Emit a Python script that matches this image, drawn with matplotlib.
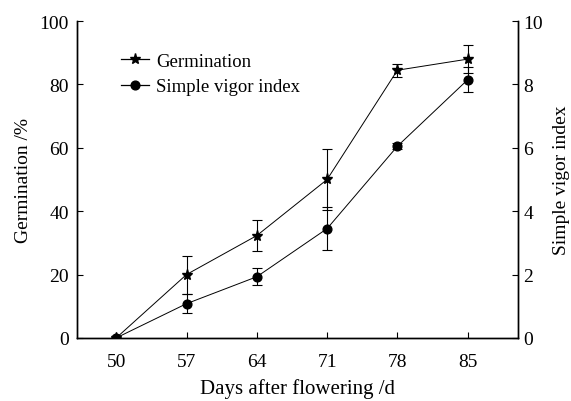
import numpy as np
import matplotlib.pyplot as plt
from matplotlib.lines import Line2D

plt.rcParams['font.family'] = ['Liberation Serif', 'DejaVu Serif']

# data
days = [50, 57, 64, 71, 78, 85]
germination = [0, 20, 32.3, 50, 84.5, 88]
germination_err = [0, 6, 5, 9.5, 2, 4.5]
vigor = [0, 1.08, 1.93, 3.45, 6.05, 8.15]
vigor_err = [0, 0.3, 0.27, 0.67, 0.1, 0.4]

fig = plt.figure(figsize=(5.71, 4.02), dpi=100)
ax = fig.add_axes([0.135, 0.157, 0.772, 0.788])
ax2 = ax.twinx()

line_kw = dict(color='black', lw=0.7, ecolor='black', elinewidth=0.8, capsize=3.5, capthick=0.8)
ax.errorbar(days, germination, yerr=germination_err, marker='*', ms=8, **line_kw)
ax2.errorbar(days, vigor, yerr=vigor_err, marker='o', ms=6.3, **line_kw)

ax.set_xlim(46.1, 90)
ax.set_ylim(0, 100)
ax2.set_ylim(0, 10)
ax.set_xticks(days)
ax.set_yticks([0, 20, 40, 60, 80, 100])
ax2.set_yticks([0, 2, 4, 6, 8, 10])

for a in (ax, ax2):
    a.spines['top'].set_visible(False)
    a.tick_params(direction='in', labelsize=14, length=4, width=0.8)
    for s in a.spines.values():
        s.set_linewidth(1.0)
ax.tick_params(axis='x', pad=11)
ax.tick_params(axis='y', pad=6)
ax2.tick_params(axis='y', pad=4)

ax.set_xlabel('Days after flowering /d', fontsize=15, labelpad=6)
ax.set_ylabel('Germination /%', fontsize=14, labelpad=5)
ax2.set_ylabel('Simple vigor index', fontsize=14, labelpad=7)

handles = [Line2D([], [], color='black', lw=0.9, marker='*', ms=8),
           Line2D([], [], color='black', lw=0.9, marker='o', ms=6.3)]
ax.legend(handles, ['Germination', 'Simple vigor index'], loc='center left',
          bbox_to_anchor=(0.061, 0.833), frameon=False, fontsize=13.5,
          handlelength=1.5, handletextpad=0.4, labelspacing=0.45)

fig.savefig('out.png', dpi=100)
